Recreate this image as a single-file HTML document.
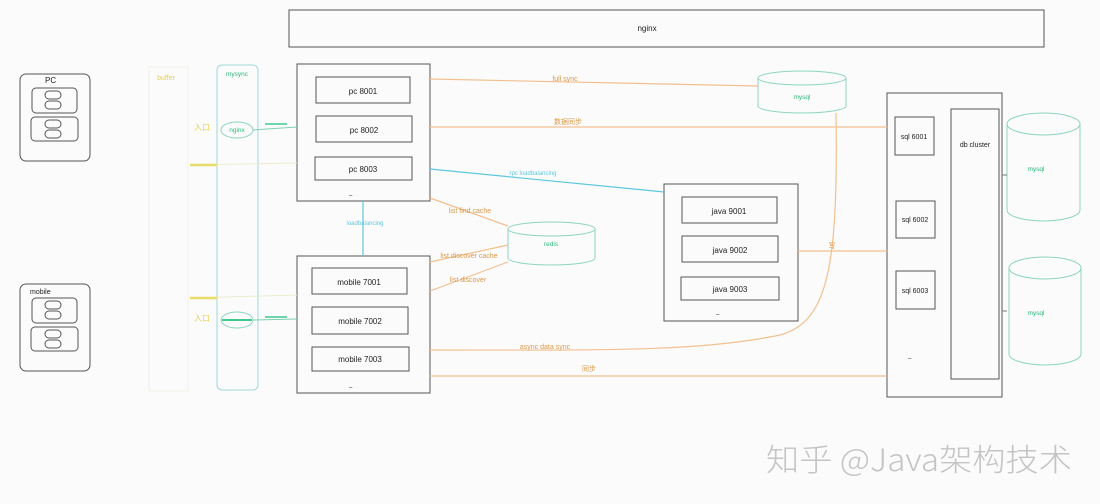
<!DOCTYPE html>
<html><head><meta charset="utf-8"><style>
html,body{margin:0;padding:0;background:#fbfbfc;}
svg{display:block;}
text{font-family:"Liberation Sans","Noto Sans CJK SC",sans-serif;}
</style></head><body>
<svg width="1100" height="504" viewBox="0 0 1100 504" xmlns="http://www.w3.org/2000/svg">
<rect width="1100" height="504" fill="#fbfbfc"/>
<g fill="none" stroke="#555" stroke-width="1">
<rect x="289" y="10" width="755" height="37"/>
<rect x="20" y="74" width="70" height="87" rx="6"/>
<rect x="32" y="88" width="45" height="25" rx="4"/>
<rect x="31" y="117" width="47" height="24" rx="4"/>
<rect x="45" y="91" width="16" height="8" rx="4"/><rect x="45" y="101" width="16" height="8" rx="4"/>
<rect x="45" y="120" width="16" height="8" rx="4"/><rect x="45" y="130" width="16" height="8" rx="4"/>
<rect x="20" y="284" width="70" height="87" rx="6"/>
<rect x="32" y="298" width="45" height="25" rx="4"/>
<rect x="31" y="327" width="47" height="24" rx="4"/>
<rect x="45" y="301" width="16" height="8" rx="4"/><rect x="45" y="311" width="16" height="8" rx="4"/>
<rect x="45" y="330" width="16" height="8" rx="4"/><rect x="45" y="340" width="16" height="8" rx="4"/>
<rect x="297" y="64" width="133" height="137"/>
<rect x="316" y="77" width="94" height="26"/>
<rect x="316" y="116" width="96" height="26"/>
<rect x="315" y="157" width="97" height="23"/>
<rect x="297" y="256" width="133" height="137"/>
<rect x="312" y="268" width="95" height="26"/>
<rect x="312" y="307" width="96" height="27"/>
<rect x="312" y="347" width="97" height="24"/>
<rect x="664" y="184" width="134" height="137"/>
<rect x="682" y="197" width="95" height="26"/>
<rect x="682" y="236" width="96" height="26"/>
<rect x="681" y="277" width="98" height="23"/>
<rect x="887" y="93" width="115" height="304"/>
<rect x="895" y="117" width="39" height="38"/>
<rect x="896" y="201" width="39" height="37"/>
<rect x="896" y="271" width="39" height="38"/>
<rect x="951" y="109" width="48" height="270"/>
</g>
<rect x="149" y="67" width="39" height="324" fill="none" stroke="#f1f1e4" stroke-width="1"/>
<rect x="217" y="65" width="41" height="325" rx="5" fill="none" stroke="#9fd8d6" stroke-width="1"/>
<g fill="none" stroke="#8dd4bf" stroke-width="1">
<ellipse cx="237" cy="130" rx="16" ry="8"/>
<ellipse cx="237" cy="320" rx="16" ry="8"/>
<path d="M508 229 a43.5 7 0 0 1 87 0 v29 a43.5 7 0 0 1 -87 0 z M508 229 a43.5 7 0 0 0 87 0"/>
<path d="M758 78 a44 7 0 0 1 88 0 v28 a44 7 0 0 1 -88 0 z M758 78 a44 7 0 0 0 88 0"/>
<path d="M1007 124 a36.5 11 0 0 1 73 0 v86 a36.5 11 0 0 1 -73 0 z M1007 124 a36.5 11 0 0 0 73 0"/>
<path d="M1009 268 a36 11 0 0 1 72 0 v86 a36 11 0 0 1 -72 0 z M1009 268 a36 11 0 0 0 72 0"/>
</g>
<line x1="253" y1="130" x2="297" y2="127" stroke="#7fd0b0"/>
<line x1="253" y1="320" x2="297" y2="319" stroke="#7fd0b0"/>
<line x1="265" y1="124" x2="287" y2="124" stroke="#3ec98e" stroke-width="1.5"/>
<line x1="265" y1="317" x2="287" y2="317" stroke="#3ec98e" stroke-width="1.5"/>
<line x1="222" y1="320" x2="252" y2="320" stroke="#3ec98e" stroke-width="2"/>
<line x1="190" y1="165" x2="297" y2="163" stroke="#ecebd0"/>
<line x1="190" y1="298" x2="297" y2="295" stroke="#ecebd0"/>
<line x1="190" y1="165" x2="217" y2="165" stroke="#e8dc6a" stroke-width="2.5"/>
<line x1="190" y1="298" x2="217" y2="298" stroke="#e8dc6a" stroke-width="2.5"/>
<line x1="1002" y1="175" x2="1007" y2="175" stroke="#777"/>
<line x1="1002" y1="311" x2="1007" y2="311" stroke="#777"/>
<g fill="none" stroke="#f2c08f" stroke-width="1.2">
<line x1="430" y1="79" x2="758" y2="86"/>
<line x1="430" y1="127" x2="887" y2="127"/>
<line x1="798" y1="251" x2="887" y2="251"/>
<line x1="430" y1="376" x2="887" y2="376"/>
<path d="M430 350 C600 350 700 352 780 335 C830 322 838 260 836 113"/>
<line x1="430" y1="198" x2="508" y2="226"/>
<line x1="430" y1="262" x2="508" y2="245"/>
<line x1="430" y1="291" x2="508" y2="262"/>
</g>
<line x1="430" y1="169" x2="664" y2="192" stroke="#5cc8dc" stroke-width="1.2"/>
<line x1="363" y1="201" x2="363" y2="256" stroke="#5cc8dc" stroke-width="1.2"/>
<g font-size="8" fill="#222">
<text x="647" y="31" text-anchor="middle">nginx</text>
<text x="45" y="83">PC</text><text x="30" y="294" font-size="7">mobile</text>
<text x="363" y="94" text-anchor="middle">pc 8001</text>
<text x="364" y="133" text-anchor="middle">pc 8002</text>
<text x="363" y="172" text-anchor="middle">pc 8003</text>
<text x="359" y="285" text-anchor="middle">mobile 7001</text>
<text x="360" y="324" text-anchor="middle">mobile 7002</text>
<text x="360" y="362" text-anchor="middle">mobile 7003</text>
<text x="729" y="214" text-anchor="middle">java 9001</text>
<text x="730" y="253" text-anchor="middle">java 9002</text>
<text x="730" y="292" text-anchor="middle">java 9003</text>
<text x="914" y="139" text-anchor="middle" font-size="7">sql 6001</text>
<text x="915" y="222" text-anchor="middle" font-size="7">sql 6002</text>
<text x="915" y="293" text-anchor="middle" font-size="7">sql 6003</text>
<text x="975" y="147" text-anchor="middle" font-size="7">db cluster</text>
<text x="349" y="197" font-size="6">–</text><text x="349" y="389" font-size="6">–</text>
<text x="716" y="316" font-size="6">–</text><text x="908" y="360" font-size="6">–</text>
</g>
<g font-size="6.5" fill="#2cb978">
<text x="237" y="76" text-anchor="middle">mysync</text>
<text x="237" y="132" text-anchor="middle">nginx</text>
<text x="551" y="246" text-anchor="middle">redis</text>
<text x="802" y="99" text-anchor="middle">mysql</text>
<text x="1036" y="171" text-anchor="middle">mysql</text>
<text x="1036" y="315" text-anchor="middle">mysql</text>
</g>
<g font-size="7" fill="#d99a4a">
<text x="565" y="81" text-anchor="middle">full sync</text>
<text x="568" y="124" text-anchor="middle">数据同步</text>
<text x="470" y="213" text-anchor="middle">list find cache</text>
<text x="469" y="258" text-anchor="middle">list discover cache</text>
<text x="468" y="282" text-anchor="middle">list discover</text>
<text x="545" y="349" text-anchor="middle">async data sync</text>
<text x="589" y="371" text-anchor="middle">同步</text>
<text x="832" y="248" text-anchor="middle">写</text>
</g>
<g font-size="7" fill="#e4d24a">
<text x="166" y="80" text-anchor="middle">buffer</text>
<text x="202" y="130" text-anchor="middle" font-size="8">入口</text>
<text x="202" y="321" text-anchor="middle" font-size="8">入口</text>
</g>
<g font-size="6" fill="#5cc8dc">
<text x="533" y="175" text-anchor="middle">rpc loadbalancing</text>
<text x="365" y="225" text-anchor="middle">loadbalancing</text>
</g>
<text x="766" y="471" font-size="31" fill="#c4c4c6" textLength="306" lengthAdjust="spacingAndGlyphs" style="font-family:'Noto Sans CJK SC',sans-serif;font-weight:300">知乎 @Java架构技术</text>
</svg>
</body></html>
